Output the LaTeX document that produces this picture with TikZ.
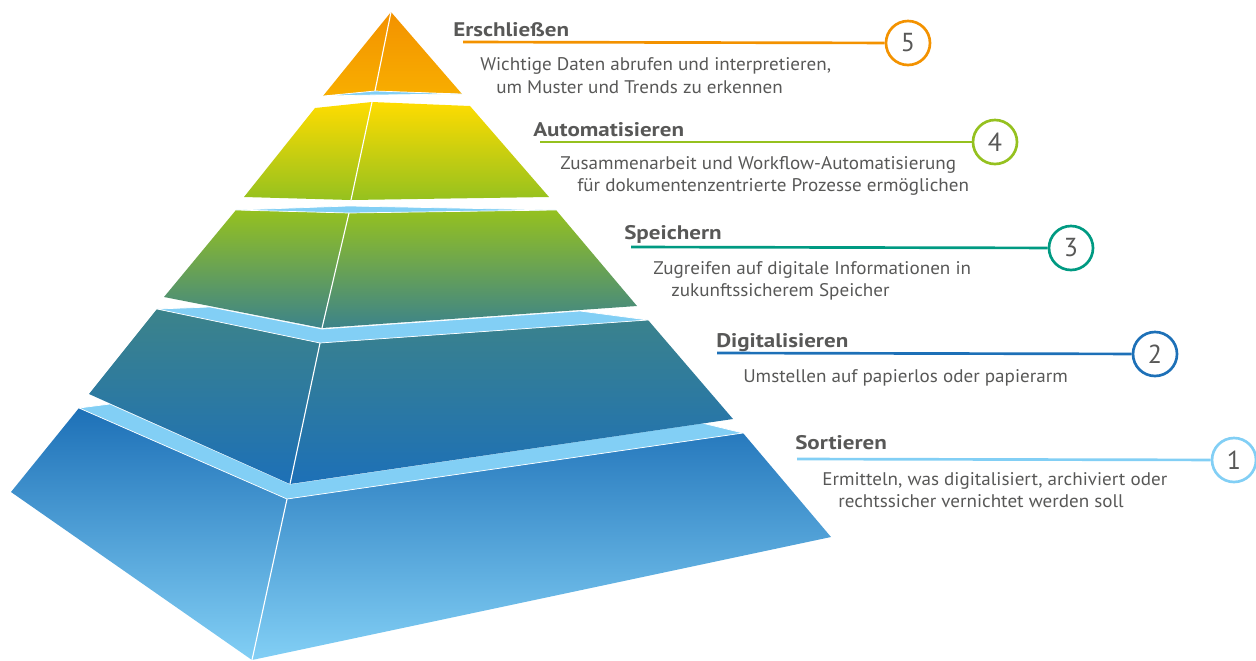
\documentclass[tikz,border=0pt]{standalone}
\usepackage{fontspec}
\setmainfont{PT Sans}
\newfontfamily\descfont[FakeStretch=1.045]{PT Sans}
\newfontfamily\titlefont[FakeStretch=1.17]{PT Sans}
\definecolor{txtgray}{HTML}{585857}
\definecolor{lvlorange}{HTML}{F39200}
\definecolor{lvlamber}{HTML}{F8AE00}
\definecolor{lvlyellow}{HTML}{FFDC00}
\definecolor{lvlgreen}{HTML}{95C11F}
\definecolor{lvlteal}{HTML}{3C838A}
\definecolor{lvlblue}{HTML}{1D70B7}
\definecolor{lvlsky}{HTML}{82CFF5}
\definecolor{lvlcyan}{HTML}{009A82}

\begin{document}
\begin{tikzpicture}[x=0.025cm, y=-0.025cm,
    band/.style ={fill=lvlsky, draw=white, line width=0.5pt},
    crest/.style ={draw=white, line width=0.8pt},
    title/.style ={anchor=base west, inner sep=0pt, text=txtgray,
       font=\titlefont\fontsize{14}{16}\selectfont\bfseries},
    desc/.style ={anchor=base west, inner sep=0pt, text=txtgray,
       font=\descfont\fontsize{13}{15}\selectfont},
    number/.style ={circle, draw, fill=white, line width=1.9pt,
       minimum size=1.1cm, inner sep=0pt, text=txtgray,
       font=\fontsize{18.5}{20}\selectfont},
    leader/.style ={line width=1.9pt}]
   \useasboundingbox (0,0) rectangle (1256,660);

   \shade[top color=lvlblue, bottom color=lvlsky]
      (79,408) -- (287,499) -- (743,433) -- (831,537) -- (252,660) -- (11,492) -- cycle;
   \fill[band] (79,408) -- (110,404) -- (290,484) -- (702,423) -- (743,433) -- (287,499) -- cycle;
   \draw[crest] (287,499) -- (252,660);

   \shade[top color=lvlteal, bottom color=lvlblue]
      (157,309) -- (320,343) -- (648,320) -- (733,419) -- (290,484) -- (89,394) -- cycle;
   \fill[band] (157,309) -- (210,307) -- (322,329) -- (580,311) -- (648,320) -- (320,343) -- cycle;
   \draw[crest] (320,343) -- (290,484);

   \shade[top color=lvlgreen, bottom color=lvlteal]
      (236,210) -- (349,213) -- (556,210) -- (637,306) -- (322,328) -- (164,297) -- cycle;
   \fill[band] (236,210) -- (349,206) -- (556,210) -- (349,213) -- cycle;
   \draw[crest] (349,213) -- (322,328);

   \shade[top color=lvlyellow, bottom color=lvlgreen]
      (315,108) -- (372,102) -- (470,106) -- (549,197) -- (351,200) -- (244,197) -- cycle;
   \draw[crest] (372,102) -- (351,200);

   \shade[top color=lvlorange, bottom color=lvlamber]
      (391,12) -- (462,94) -- (375,91) -- (323,96) -- cycle;
   \fill[band] (323,96) -- (375,91) -- (462,94) -- (375,95) -- cycle;
   \draw[crest] (391,12) -- (375,91);

   \node[title] (t5) at (453,36) {Erschließen};
   \coordinate (s5) at (463,42);
   \node[number,draw=lvlorange] (n5) at (908,43) {5};
   \draw[leader,lvlorange] (s5) to (n5);
   \node[desc] (d5a) at (480,70) {Wichtige Daten abrufen und interpretieren,};
   \node[desc] (d5b) at (496,93) {um Muster und Trends zu erkennen};

   \node[title] (t4) at (533,136) {Automatisieren};
   \coordinate (s4) at (540,142);
   \node[number,draw=lvlgreen] (n4) at (995,142) {4};
   \draw[leader,lvlgreen] (s4) to (n4);
   \node[desc] (d4a) at (560,169) {Zusammenarbeit und Workflow-Automatisierung};
   \node[desc] (d4b) at (577,191) {für dokumentenzentrierte Prozesse ermöglichen};

   \node[title] (t3) at (624,239) {Speichern};
   \coordinate (s3) at (631,247);
   \node[number,draw=lvlcyan] (n3) at (1071,248) {3};
   \draw[leader,lvlcyan] (s3) to (n3);
   \node[desc] (d3a) at (653,274) {Zugreifen auf digitale Informationen in};
   \node[desc] (d3b) at (671,296) {zukunftssicherem Speicher};

   \node[title] (t2) at (716,347) {Digitalisieren};
   \coordinate (s2) at (717,353);
   \node[number,draw=lvlblue] (n2) at (1155,354) {2};
   \draw[leader,lvlblue] (s2) to (n2);
   \node[desc] (d2a) at (743,382) {Umstellen auf papierlos oder papierarm};

   \node[title] (t1) at (795,449) {Sortieren};
   \coordinate (s1) at (797,459);
   \node[number,draw=lvlsky] (n1) at (1234,460) {1};
   \draw[leader,lvlsky] (s1) to (n1);
   \node[desc] (d1a) at (822,485) {Ermitteln, was digitalisiert, archiviert oder};
   \node[desc] (d1b) at (838,507) {rechtssicher vernichtet werden soll};
 \end{tikzpicture}
\end{document}
